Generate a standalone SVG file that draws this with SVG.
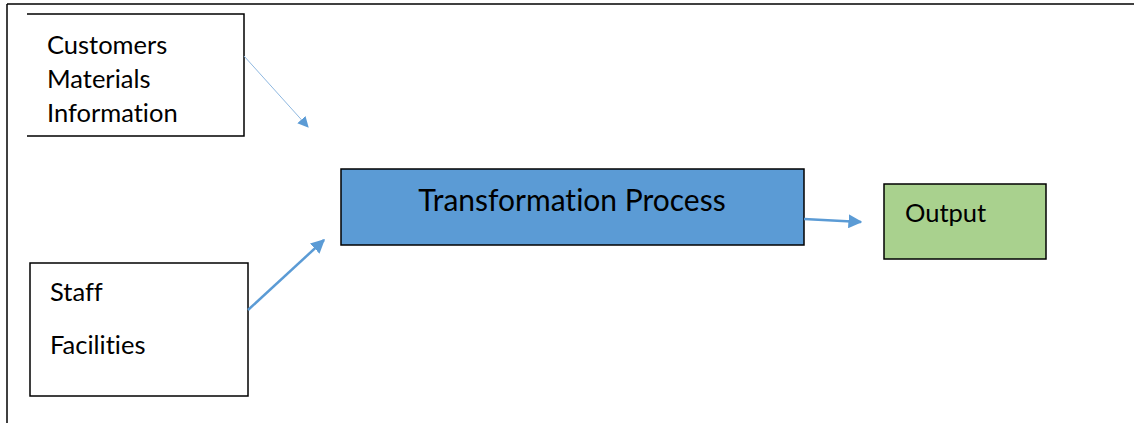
<svg xmlns="http://www.w3.org/2000/svg" width="1134" height="423" viewBox="0 0 1134 423">
  <style>
    .lbl { font-family: Lato, "Liberation Sans", sans-serif; font-size: 25.5px; fill: #000; font-variant-ligatures: none; }
    .box { stroke: #000; stroke-width: 1.5; }
    .conn { stroke: #5b9bd5; fill: none; }
  </style>
  <defs>
    <marker id="arrow" viewBox="0 0 10 10" refX="9" refY="5" markerWidth="11" markerHeight="11" markerUnits="userSpaceOnUse" orient="auto">
      <path d="M0,0 L10,5 L0,10 z" fill="#5b9bd5"/>
    </marker>
    <marker id="arrowLg" viewBox="0 0 10 10" refX="9" refY="5" markerWidth="14" markerHeight="14" markerUnits="userSpaceOnUse" orient="auto">
      <path d="M0,0 L10,5 L0,10 z" fill="#5b9bd5"/>
    </marker>
  </defs>
  <rect width="1134" height="423" fill="#fff"/>

  <!-- page frame -->
  <g id="frame" stroke="#000" stroke-width="1.5" fill="none">
    <line x1="7" y1="4" x2="1134" y2="4"/>
    <line x1="7" y1="4" x2="7" y2="423"/>
  </g>

  <!-- inputs: customers, materials, information (open on the left side) -->
  <g id="node-inputs">
    <path d="M27,14 H244 V136 H27" fill="#fff" class="box"/>
    <text class="lbl" x="47" y="54">Customers</text>
    <text class="lbl" x="47" y="88">Materials</text>
    <text class="lbl" x="47" y="122">Information</text>
  </g>

  <!-- resources: staff, facilities -->
  <g id="node-resources">
    <rect x="30" y="263" width="218" height="133" fill="#fff" class="box"/>
    <text class="lbl" x="50" y="301">Staff</text>
    <text class="lbl" x="50" y="354">Facilities</text>
  </g>

  <g id="node-process">
    <rect x="341" y="169" width="463" height="76" fill="#5b9bd5" class="box"/>
    <text class="lbl" x="572" y="211" text-anchor="middle" style="font-size:30px">Transformation Process</text>
  </g>

  <g id="node-output">
    <rect x="884" y="184" width="162" height="75" fill="#a9d18e" class="box"/>
    <text class="lbl" x="905" y="222">Output</text>
  </g>

  <g id="connectors">
    <line class="conn" x1="244" y1="56" x2="308" y2="127" stroke-width="1" style="stroke:#8fb8e0" marker-end="url(#arrow)"/>
    <line class="conn" x1="248" y1="310" x2="324" y2="240" stroke-width="2.5" marker-end="url(#arrowLg)"/>
    <line class="conn" x1="804" y1="219" x2="861" y2="222" stroke-width="2.5" marker-end="url(#arrowLg)"/>
  </g>
</svg>
